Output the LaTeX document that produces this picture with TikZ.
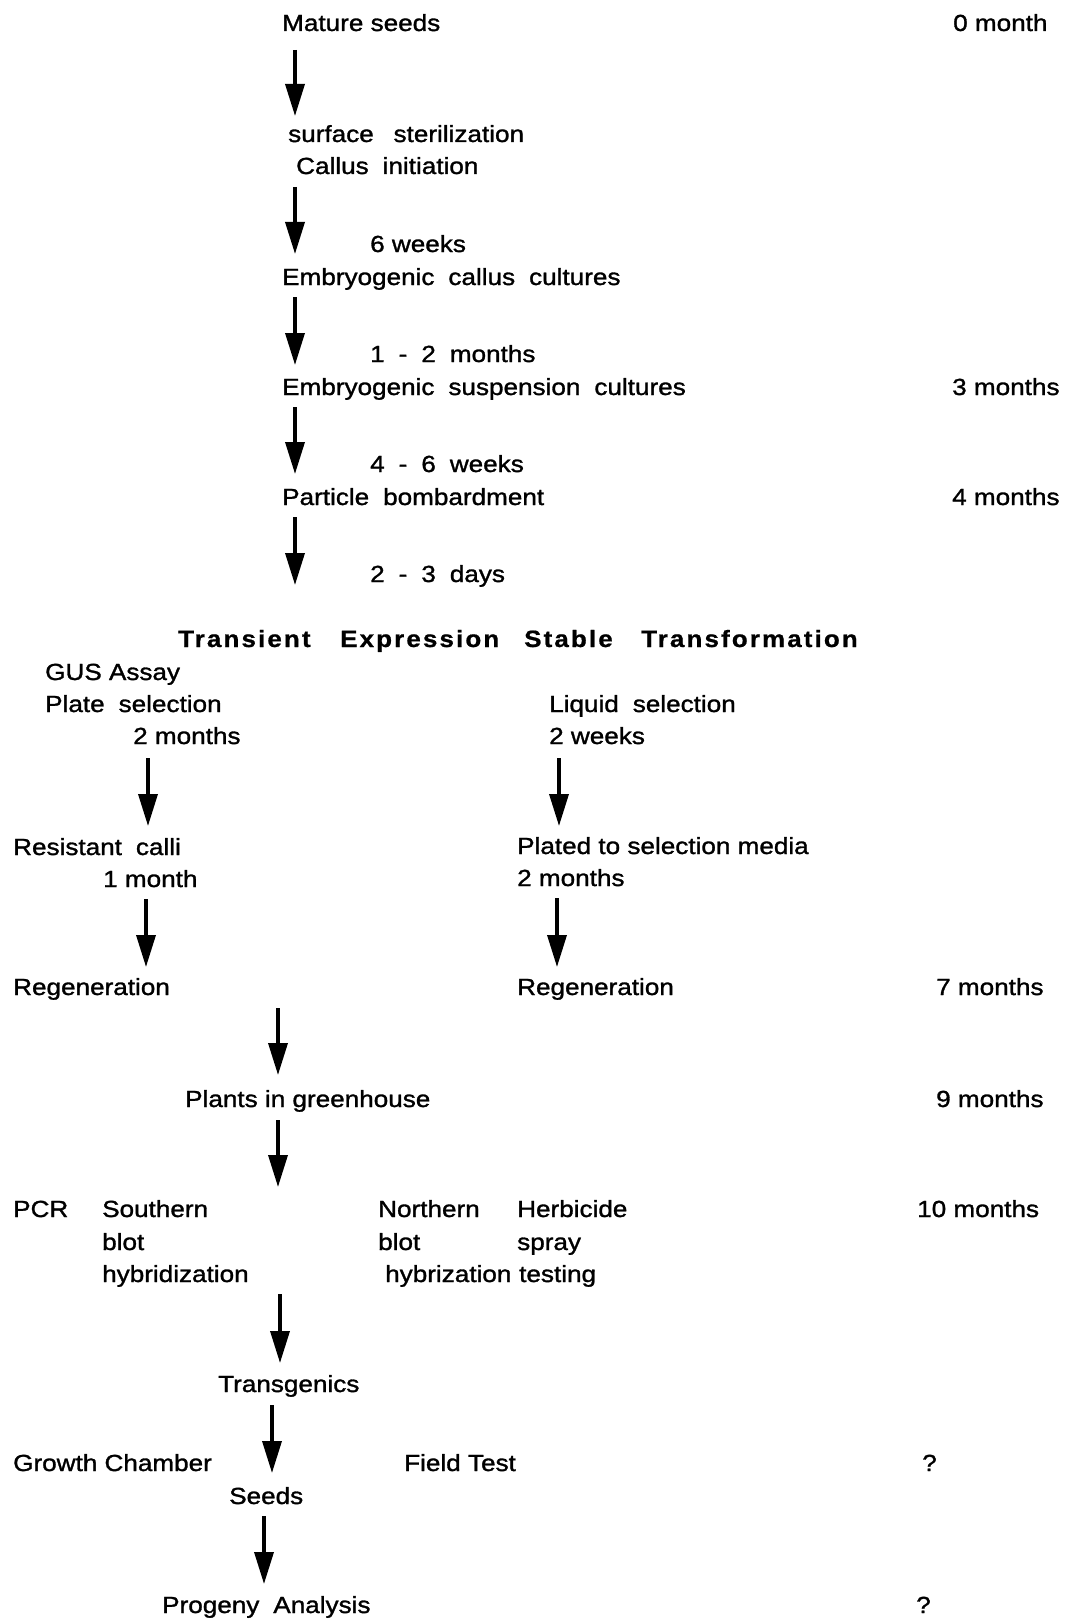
\documentclass[tikz,border=0pt]{standalone}
\usepackage{fontspec}
\setmainfont{Liberation Sans}[FakeStretch=1.12, FakeBold=1.3]
\newfontfamily\titlefont{Liberation Sans Bold}[FakeStretch=1.1, LetterSpace=9, FakeBold=0.8]
\usetikzlibrary{arrows.meta}
\newcommand\widespaces{\spaceskip=0.6em\relax}
\begin{document}
\begin{tikzpicture}[x=1pt,y=-1pt,
  lbl/.style={anchor=base west, inner sep=0pt, font=\fontsize{23.3}{28}\selectfont},
  wide/.style={lbl, execute at begin node=\widespaces},
  ttl/.style={anchor=base west, inner sep=0pt, font=\fontsize{23.6}{28}\selectfont\titlefont},
  flow/.style={line width=3.5pt, -{Triangle[length=32pt,width=19pt]}}]
\useasboundingbox (0,0) rectangle (1070,1621);
% main column
\node[lbl]  (mature) at (282,31) {Mature seeds};
\node[lbl]  (t0) at (953,31) {0 month};
\node[wide] (surf) at (288,142) {surface\hspace{0.85em}sterilization};
\node[wide] (callus) at (296,174) {Callus initiation};
\node[lbl]  (w6) at (370,252) {6 weeks};
\node[wide] (ecc) at (282,285) {Embryogenic callus cultures};
\node[wide] (m12) at (370,362) {1 - 2 months};
\node[wide] (esc) at (282,395) {Embryogenic suspension cultures};
\node[lbl]  (t3) at (952,395) {3 months};
\node[wide] (w46) at (370,472) {4 - 6 weeks};
\node[wide] (pb) at (282,505) {Particle bombardment};
\node[lbl]  (t4) at (952,505) {4 months};
\node[wide] (d23) at (370,582) {2 - 3 days};
% titles
\node[ttl] (tr) at (178,647) {Transient};
\node[ttl] (ex) at (340,647) {Expression};
\node[ttl] (st) at (524,647) {Stable};
\node[ttl] (tf) at (641,647) {Transformation};
% left branch
\node[lbl]  (gus) at (45,680) {GUS Assay};
\node[wide] (plate) at (45,712) {Plate selection};
\node[lbl]  (m2a) at (133,744) {2 months};
\node[wide] (res) at (13,855) {Resistant calli};
\node[lbl]  (m1) at (103,887) {1 month};
\node[lbl]  (regl) at (13,995) {Regeneration};
% right branch
\node[wide] (liq) at (549,712) {Liquid selection};
\node[lbl]  (w2) at (549,744) {2 weeks};
\node[lbl]  (plated) at (517,854) {Plated to selection media};
\node[lbl]  (m2b) at (517,886) {2 months};
\node[lbl]  (regr) at (517,995) {Regeneration};
\node[lbl]  (t7) at (936,995) {7 months};
% lower part
\node[lbl]  (plants) at (185,1107) {Plants in greenhouse};
\node[lbl]  (t9) at (936,1107) {9 months};
\node[lbl]  (pcr) at (13,1217) {PCR};
\node[lbl]  (south) at (102,1217) {Southern};
\node[lbl]  (sblot) at (102,1250) {blot};
\node[lbl]  (shyb) at (102,1282) {hybridization};
\node[lbl]  (north) at (378,1217) {Northern};
\node[lbl]  (nblot) at (378,1250) {blot};
\node[lbl]  (nhyb) at (385,1282) {hybrization};
\node[lbl]  (herb) at (517,1217) {Herbicide};
\node[lbl]  (spray) at (517,1250) {spray};
\node[lbl]  (test) at (519,1282) {testing};
\node[lbl]  (t10) at (917,1217) {10 months};
\node[lbl]  (trans) at (218,1392) {Transgenics};
\node[lbl]  (growth) at (13,1471) {Growth Chamber};
\node[lbl]  (seeds) at (229,1504) {Seeds};
\node[lbl]  (field) at (404,1471) {Field Test};
\node[lbl]  (q1) at (922,1471) {?};
\node[wide] (prog) at (162,1613) {Progeny Analysis};
\node[lbl]  (q2) at (916,1613) {?};
% arrow end points
\coordinate (a1s) at (295,50);  \coordinate (a1e) at (295,116);
\coordinate (a2s) at (295,187); \coordinate (a2e) at (295,254);
\coordinate (a3s) at (295,297); \coordinate (a3e) at (295,365);
\coordinate (a4s) at (295,407); \coordinate (a4e) at (295,474);
\coordinate (a5s) at (295,517); \coordinate (a5e) at (295,585);
\coordinate (l1s) at (148,758); \coordinate (l1e) at (148,826);
\coordinate (r1s) at (559,758); \coordinate (r1e) at (559,826);
\coordinate (l2s) at (146,899); \coordinate (l2e) at (146,967);
\coordinate (r2s) at (557,898); \coordinate (r2e) at (557,967);
\coordinate (a6s) at (278,1008); \coordinate (a6e) at (278,1075);
\coordinate (a7s) at (278,1120); \coordinate (a7e) at (278,1187);
\coordinate (a8s) at (280,1294); \coordinate (a8e) at (280,1363);
\coordinate (a9s) at (272,1405); \coordinate (a9e) at (272,1473);
\coordinate (a10s) at (264,1516); \coordinate (a10e) at (264,1584);
\foreach \a in {a1,a2,a3,a4,a5,l1,r1,l2,r2,a6,a7,a8,a9,a10}
  \draw[flow] (\a s) -- (\a e);
\end{tikzpicture}
\end{document}
